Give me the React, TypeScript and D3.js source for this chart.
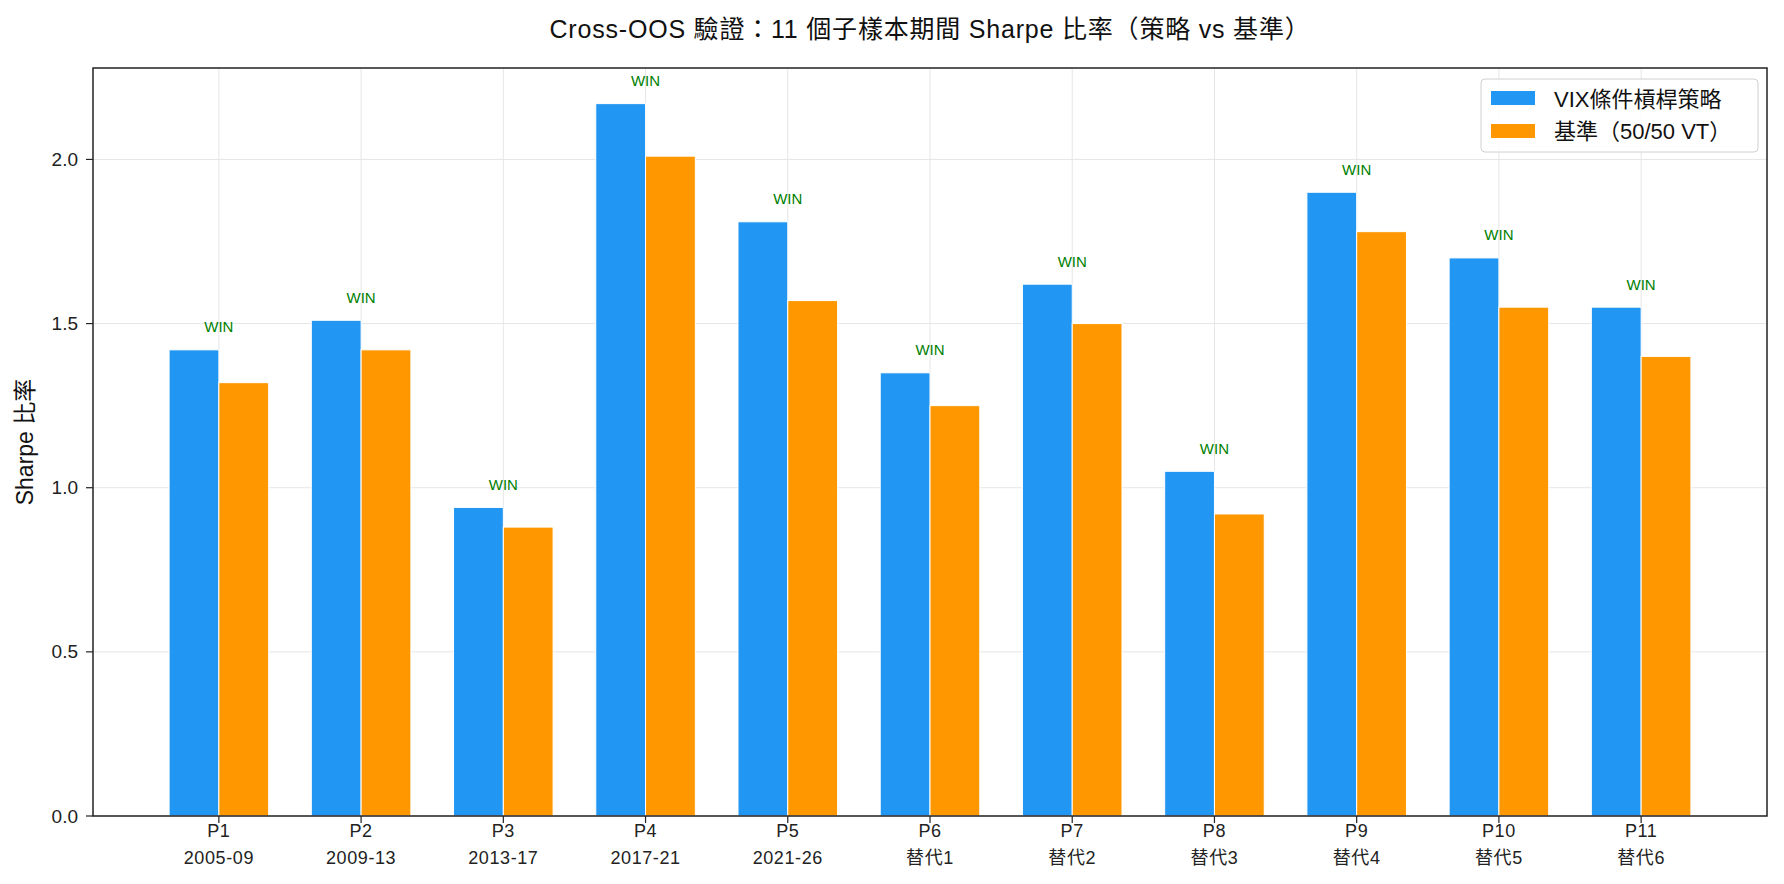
import React from 'react';
import * as d3 from 'd3';

const periods = ['P1', 'P2', 'P3', 'P4', 'P5', 'P6', 'P7', 'P8', 'P9', 'P10', 'P11'];
const periodRanges = ['2005-09', '2009-13', '2013-17', '2017-21', '2021-26', '替代1', '替代2', '替代3', '替代4', '替代5', '替代6'];
const strategySharpe = [1.42, 1.51, 0.94, 2.17, 1.81, 1.35, 1.62, 1.05, 1.90, 1.70, 1.55];
const benchmarkSharpe = [1.32, 1.42, 0.88, 2.01, 1.57, 1.25, 1.50, 0.92, 1.78, 1.55, 1.40];
const yTicks = [0, 0.5, 1.0, 1.5, 2.0];

const W = 1784;
const H = 884;
const margin = { left: 93, right: 17, top: 68, bottom: 68 };
const FONT = '"Liberation Sans", "Noto Sans CJK TC", sans-serif';
const BLUE = '#2196F3';
const ORANGE = '#FF9800';
const barW = 0.35;

const App: React.FC = () => {
  const x0 = margin.left;
  const x1 = W - margin.right;
  const y0 = H - margin.bottom;
  const y1 = margin.top;

  const n = periods.length;
  const pad = (n - 1 + 2 * barW) * 0.05;
  const x = d3.scaleLinear().domain([-barW - pad, n - 1 + barW + pad]).range([x0, x1]);
  const ymax = d3.max(strategySharpe.concat(benchmarkSharpe))! * 1.05;
  const y = d3.scaleLinear().domain([0, ymax]).range([y0, y1]);

  return (
    <svg width={W} height={H} style={{ position: 'absolute', left: 0, top: 0 }} fontFamily={FONT}>
      <rect width={W} height={H} fill="#fff" />
      <text x={(x0 + x1) / 2} y={29} textAnchor="middle" dominantBaseline="central" fontSize={25}
        letterSpacing={0.8} fill="#111">
        Cross-OOS 驗證：11 個子樣本期間 Sharpe 比率（策略 vs 基準）
      </text>

      {/* grid */}
      <g stroke="#e6e6e6" strokeWidth={1}>
        {yTicks.map(t => (
          <line key={'gy' + t} x1={x0} x2={x1} y1={y(t)} y2={y(t)} />
        ))}
        {periods.map((p, i) => (
          <line key={'gx' + p} x1={x(i)} x2={x(i)} y1={y0} y2={y1} />
        ))}
      </g>

      {/* bars */}
      {periods.map((p, i) => (
        <g key={p}>
          <rect x={x(i - barW)} width={x(barW) - x(0)} y={y(strategySharpe[i])} height={y(0) - y(strategySharpe[i])}
            fill={BLUE} stroke="#fff" strokeWidth={1} />
          <rect x={x(i)} width={x(barW) - x(0)} y={y(benchmarkSharpe[i])} height={y(0) - y(benchmarkSharpe[i])}
            fill={ORANGE} stroke="#fff" strokeWidth={1} />
          {strategySharpe[i] > benchmarkSharpe[i] && (
            <text x={x(i)} y={y(Math.max(strategySharpe[i], benchmarkSharpe[i]) + 0.05) - 1} textAnchor="middle"
              fontSize={15} fill="green">WIN</text>
          )}
        </g>
      ))}

      {/* frame */}
      <rect x={x0} y={y1} width={x1 - x0} height={y0 - y1} fill="none" stroke="#222" strokeWidth={1.5} />

      {/* y axis */}
      {yTicks.map(t => (
        <g key={'ty' + t}>
          <line x1={x0 - 7} x2={x0} y1={y(t)} y2={y(t)} stroke="#222" strokeWidth={1.2} />
          <text x={x0 - 15} y={y(t)} textAnchor="end" dominantBaseline="central" fontSize={19} fill="#222">
            {t.toFixed(1)}
          </text>
        </g>
      ))}
      <text transform={`translate(25,${(y0 + y1) / 2}) rotate(-90)`} textAnchor="middle" dominantBaseline="central"
        fontSize={23} fill="#111">Sharpe 比率</text>

      {/* x axis */}
      {periods.map((p, i) => (
        <g key={'tx' + p}>
          <line x1={x(i)} x2={x(i)} y1={y0} y2={y0 + 7} stroke="#222" strokeWidth={1.2} />
          <text x={x(i)} y={831} textAnchor="middle" dominantBaseline="central" fontSize={18} letterSpacing={0.6}
            fill="#222">{p}</text>
          <text x={x(i)} y={858} textAnchor="middle" dominantBaseline="central" fontSize={18} letterSpacing={0.6}
            fill="#222">{periodRanges[i]}</text>
        </g>
      ))}

      {/* legend */}
      <g>
        <rect x={1481} y={79} width={277} height={73} rx={4} fill="#fff" fillOpacity={0.85} stroke="#d0d0d0" />
        <rect x={1491} y={91} width={44} height={14} fill={BLUE} />
        <rect x={1491} y={124} width={44} height={14} fill={ORANGE} />
        <text x={1554} y={99} dominantBaseline="central" fontSize={22} fill="#111">VIX條件槓桿策略</text>
        <text x={1554} y={131} dominantBaseline="central" fontSize={22} fill="#111">基準（50/50 VT）</text>
      </g>
    </svg>
  );
};

export default App;
